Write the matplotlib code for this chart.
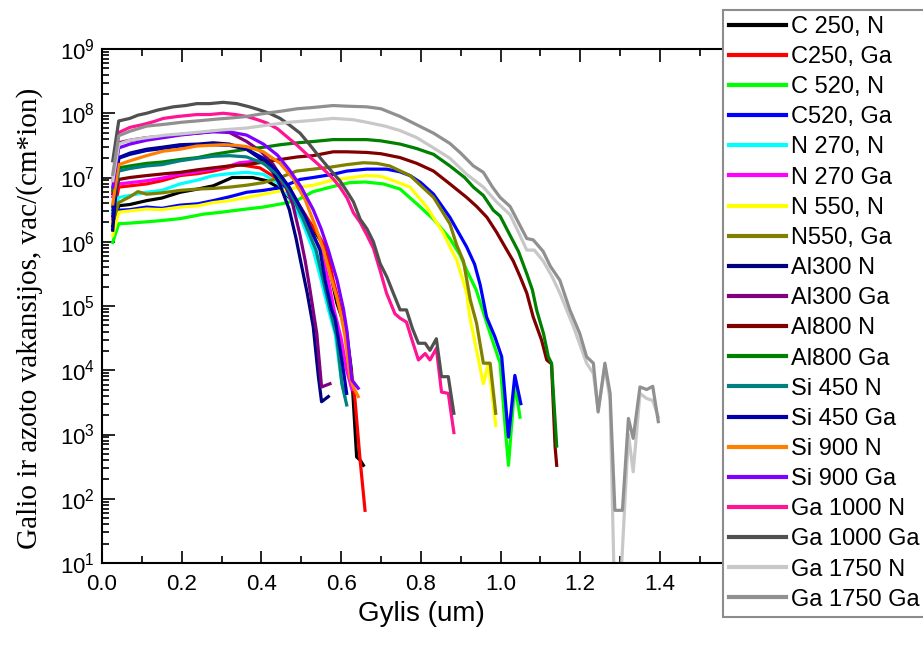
import numpy as np
import matplotlib
matplotlib.use("Agg")
import matplotlib.pyplot as plt
from matplotlib.ticker import LogLocator, MultipleLocator, NullFormatter, FuncFormatter

plt.rcParams['font.family'] = ['Liberation Sans', 'DejaVu Sans']
plt.rcParams['mathtext.fontset'] = 'custom'
plt.rcParams['mathtext.rm'] = 'Liberation Sans'
plt.rcParams['mathtext.it'] = 'Liberation Sans:italic'
plt.rcParams['mathtext.bf'] = 'Liberation Sans:bold'
plt.rcParams['mathtext.default'] = 'regular'

# ---- data: depth (um) and log10 of vacancies, vac/(cm*ion) ----
x_c250_n = [0.027, 0.042, 0.070, 0.112, 0.150, 0.196, 0.240, 0.279, 0.327, 0.378, 0.413, 0.447, 0.480, 0.514, 0.540, 0.564, 0.577, 0.589, 0.600, 0.614, 0.626, 0.639, 0.648, 0.656]
lg_c250_n = [6.25, 6.56, 6.58, 6.64, 6.68, 6.77, 6.82, 6.87, 7.00, 7.00, 6.95, 6.83, 6.62, 6.35, 6.10, 5.87, 5.40, 5.05, 4.85, 4.57, 4.00, 2.65, 2.60, 2.52]

x_c250_ga = [0.027, 0.042, 0.070, 0.112, 0.150, 0.196, 0.240, 0.279, 0.345, 0.396, 0.430, 0.460, 0.490, 0.520, 0.545, 0.565, 0.580, 0.593, 0.605, 0.618, 0.635, 0.647, 0.660]
lg_c250_ga = [6.35, 6.85, 6.87, 6.90, 6.95, 7.03, 7.06, 7.10, 7.20, 7.15, 7.02, 6.85, 6.62, 6.32, 6.08, 5.87, 5.40, 5.10, 4.80, 4.31, 3.53, 2.65, 1.82]

x_c520_n = [0.027, 0.042, 0.070, 0.112, 0.150, 0.196, 0.230, 0.255, 0.300, 0.350, 0.405, 0.450, 0.488, 0.530, 0.580, 0.622, 0.660, 0.706, 0.748, 0.790, 0.832, 0.873, 0.898, 0.915, 0.939, 0.957, 0.974, 0.999, 1.011, 1.020, 1.036, 1.049]
lg_c520_n = [5.99, 6.28, 6.29, 6.31, 6.33, 6.36, 6.40, 6.43, 6.46, 6.50, 6.54, 6.59, 6.64, 6.78, 6.86, 6.92, 6.93, 6.90, 6.82, 6.59, 6.35, 6.05, 5.80, 5.56, 5.25, 4.90, 4.57, 4.11, 3.17, 2.52, 3.79, 3.27]

x_c520_ga = [0.027, 0.042, 0.070, 0.112, 0.150, 0.196, 0.240, 0.279, 0.320, 0.363, 0.405, 0.447, 0.497, 0.530, 0.580, 0.614, 0.664, 0.714, 0.747, 0.773, 0.800, 0.832, 0.873, 0.915, 0.935, 0.949, 0.965, 0.986, 1.003, 1.020, 1.036, 1.051]
lg_c520_ga = [6.20, 6.49, 6.50, 6.54, 6.52, 6.57, 6.59, 6.64, 6.70, 6.77, 6.80, 6.84, 6.97, 7.00, 7.05, 7.10, 7.13, 7.13, 7.09, 7.03, 6.92, 6.74, 6.38, 5.92, 5.65, 5.33, 4.83, 4.52, 4.21, 2.96, 3.92, 3.48]

x_n270_n = [0.027, 0.042, 0.070, 0.112, 0.150, 0.196, 0.240, 0.279, 0.320, 0.363, 0.405, 0.440, 0.470, 0.500, 0.530, 0.548, 0.568, 0.585, 0.602, 0.610]
lg_n270_n = [6.45, 6.69, 6.72, 6.77, 6.80, 6.90, 6.96, 7.03, 7.06, 7.08, 7.05, 6.92, 6.70, 6.35, 5.87, 5.45, 4.95, 4.57, 3.79, 3.59]

x_n270_ga = [0.027, 0.042, 0.070, 0.112, 0.150, 0.196, 0.240, 0.279, 0.320, 0.345, 0.396, 0.430, 0.460, 0.490, 0.520, 0.550, 0.568, 0.582, 0.600, 0.614, 0.627]
lg_n270_ga = [6.70, 6.90, 6.92, 6.95, 6.99, 7.05, 7.09, 7.13, 7.18, 7.23, 7.26, 7.12, 6.92, 6.62, 6.20, 5.87, 5.40, 4.95, 4.50, 4.00, 3.70]

x_n550_n = [0.027, 0.042, 0.070, 0.112, 0.150, 0.196, 0.240, 0.279, 0.320, 0.363, 0.405, 0.447, 0.497, 0.530, 0.580, 0.614, 0.664, 0.698, 0.723, 0.773, 0.815, 0.857, 0.877, 0.890, 0.915, 0.923, 0.940, 0.957, 0.970, 0.988]
lg_n550_n = [6.10, 6.46, 6.48, 6.51, 6.50, 6.54, 6.56, 6.61, 6.64, 6.69, 6.74, 6.79, 6.85, 6.88, 6.96, 6.99, 7.03, 7.02, 6.97, 6.85, 6.54, 6.13, 5.87, 5.72, 5.21, 4.83, 4.31, 3.79, 4.11, 3.14]

x_n550_ga = [0.027, 0.042, 0.070, 0.090, 0.112, 0.150, 0.196, 0.240, 0.279, 0.320, 0.363, 0.405, 0.447, 0.488, 0.530, 0.572, 0.614, 0.656, 0.690, 0.722, 0.773, 0.832, 0.873, 0.890, 0.907, 0.924, 0.940, 0.957, 0.974, 0.988]
lg_n550_ga = [6.30, 6.61, 6.70, 6.78, 6.74, 6.76, 6.80, 6.82, 6.83, 6.85, 6.88, 6.92, 7.00, 7.10, 7.13, 7.16, 7.20, 7.23, 7.22, 7.18, 7.03, 6.69, 6.28, 5.95, 5.70, 5.10, 4.73, 4.11, 4.11, 3.33]

x_al300_n = [0.027, 0.042, 0.070, 0.112, 0.150, 0.196, 0.240, 0.279, 0.320, 0.363, 0.400, 0.430, 0.447, 0.470, 0.487, 0.500, 0.515, 0.530, 0.543, 0.551, 0.568]
lg_al300_n = [6.18, 7.31, 7.38, 7.44, 7.47, 7.51, 7.52, 7.54, 7.52, 7.44, 7.28, 7.08, 6.88, 6.50, 6.05, 5.65, 5.20, 4.68, 3.90, 3.51, 3.59]

x_al300_ga = [0.027, 0.042, 0.070, 0.112, 0.150, 0.196, 0.240, 0.279, 0.320, 0.363, 0.400, 0.430, 0.455, 0.478, 0.497, 0.510, 0.522, 0.539, 0.551, 0.572]
lg_al300_ga = [6.75, 7.54, 7.58, 7.62, 7.64, 7.67, 7.69, 7.72, 7.70, 7.56, 7.40, 7.20, 6.95, 6.60, 6.10, 5.70, 5.25, 4.57, 3.74, 3.79]

x_al800_n = [0.027, 0.042, 0.070, 0.112, 0.160, 0.196, 0.240, 0.279, 0.320, 0.363, 0.405, 0.447, 0.490, 0.530, 0.580, 0.614, 0.664, 0.700, 0.748, 0.790, 0.832, 0.873, 0.915, 0.940, 0.966, 0.990, 1.016, 1.032, 1.049, 1.066, 1.082, 1.103, 1.116, 1.128, 1.137, 1.141]
lg_al800_n = [6.55, 6.97, 7.00, 7.03, 7.06, 7.08, 7.12, 7.15, 7.18, 7.20, 7.24, 7.28, 7.32, 7.34, 7.40, 7.40, 7.39, 7.37, 7.31, 7.22, 7.10, 6.90, 6.69, 6.55, 6.38, 6.15, 5.87, 5.70, 5.46, 5.20, 4.83, 4.47, 4.16, 4.10, 2.81, 2.52]

x_al800_ga = [0.027, 0.042, 0.070, 0.112, 0.150, 0.196, 0.240, 0.279, 0.320, 0.363, 0.405, 0.447, 0.490, 0.530, 0.580, 0.614, 0.664, 0.700, 0.748, 0.790, 0.832, 0.873, 0.910, 0.932, 0.957, 0.982, 0.999, 1.024, 1.045, 1.066, 1.080, 1.091, 1.108, 1.120, 1.128, 1.141]
lg_al800_ga = [6.80, 7.15, 7.18, 7.22, 7.24, 7.28, 7.31, 7.36, 7.40, 7.44, 7.47, 7.51, 7.54, 7.56, 7.59, 7.59, 7.59, 7.57, 7.52, 7.45, 7.36, 7.18, 7.00, 6.85, 6.72, 6.49, 6.40, 6.10, 5.85, 5.50, 5.25, 4.93, 4.57, 4.21, 4.11, 2.82]

x_si450_n = [0.027, 0.042, 0.070, 0.112, 0.150, 0.196, 0.240, 0.279, 0.320, 0.363, 0.405, 0.440, 0.470, 0.505, 0.537, 0.555, 0.572, 0.589, 0.602, 0.614]
lg_si450_n = [6.50, 7.10, 7.14, 7.18, 7.20, 7.26, 7.30, 7.33, 7.34, 7.32, 7.22, 7.05, 6.80, 6.35, 5.87, 5.40, 4.95, 4.52, 3.79, 3.46]

x_si450_ga = [0.027, 0.042, 0.070, 0.112, 0.150, 0.196, 0.240, 0.279, 0.320, 0.363, 0.405, 0.440, 0.470, 0.510, 0.547, 0.560, 0.576, 0.585, 0.602, 0.614]
lg_si450_ga = [6.40, 7.30, 7.36, 7.42, 7.45, 7.49, 7.50, 7.51, 7.50, 7.44, 7.30, 7.10, 6.85, 6.40, 5.87, 5.40, 4.95, 4.80, 4.16, 3.64]

x_si900_n = [0.027, 0.042, 0.070, 0.112, 0.154, 0.196, 0.238, 0.270, 0.304, 0.338, 0.363, 0.405, 0.447, 0.480, 0.510, 0.535, 0.556, 0.572, 0.589, 0.600, 0.610, 0.622, 0.630, 0.643]
lg_si900_n = [6.59, 7.20, 7.26, 7.34, 7.41, 7.44, 7.49, 7.50, 7.51, 7.50, 7.48, 7.40, 7.22, 6.98, 6.65, 6.25, 5.87, 5.50, 5.14, 4.85, 4.52, 3.90, 3.75, 3.59]

x_si900_ga = [0.027, 0.042, 0.070, 0.112, 0.154, 0.196, 0.238, 0.279, 0.320, 0.363, 0.405, 0.440, 0.470, 0.500, 0.530, 0.550, 0.568, 0.590, 0.606, 0.615, 0.627, 0.643]
lg_si900_ga = [6.85, 7.46, 7.52, 7.58, 7.62, 7.66, 7.69, 7.71, 7.71, 7.66, 7.52, 7.35, 7.12, 6.85, 6.50, 6.20, 5.87, 5.40, 4.95, 4.60, 3.85, 3.72]

x_ga1000_n = [0.027, 0.042, 0.070, 0.100, 0.130, 0.154, 0.190, 0.238, 0.270, 0.304, 0.335, 0.363, 0.390, 0.413, 0.440, 0.463, 0.490, 0.514, 0.540, 0.564, 0.580, 0.597, 0.615, 0.631, 0.648, 0.665, 0.681, 0.698, 0.714, 0.735, 0.748, 0.764, 0.779, 0.794, 0.811, 0.823, 0.839, 0.852, 0.869, 0.883]
lg_ga1000_n = [6.95, 7.70, 7.78, 7.82, 7.87, 7.92, 7.95, 7.98, 7.98, 8.00, 7.98, 7.95, 7.90, 7.85, 7.76, 7.64, 7.50, 7.36, 7.22, 7.08, 6.98, 6.85, 6.68, 6.45, 6.30, 6.10, 5.90, 5.55, 5.20, 4.88, 4.81, 4.75, 4.45, 4.16, 4.26, 4.16, 4.34, 3.66, 3.64, 3.03]

x_ga1000_ga = [0.027, 0.042, 0.070, 0.090, 0.112, 0.140, 0.179, 0.210, 0.238, 0.270, 0.304, 0.338, 0.370, 0.396, 0.420, 0.447, 0.470, 0.497, 0.520, 0.547, 0.570, 0.597, 0.615, 0.631, 0.648, 0.665, 0.681, 0.698, 0.715, 0.731, 0.748, 0.764, 0.779, 0.794, 0.811, 0.823, 0.839, 0.852, 0.869, 0.883]
lg_ga1000_ga = [7.26, 7.88, 7.92, 7.97, 8.00, 8.05, 8.10, 8.12, 8.15, 8.15, 8.17, 8.15, 8.10, 8.05, 8.00, 7.92, 7.82, 7.69, 7.52, 7.31, 7.14, 6.95, 6.78, 6.62, 6.35, 6.20, 6.00, 5.66, 5.45, 5.20, 4.94, 4.94, 4.65, 4.42, 4.42, 4.31, 4.49, 3.90, 3.90, 3.33]

x_ga1750_n = [0.027, 0.042, 0.070, 0.112, 0.160, 0.200, 0.250, 0.300, 0.363, 0.420, 0.470, 0.530, 0.580, 0.630, 0.664, 0.710, 0.748, 0.790, 0.832, 0.873, 0.915, 0.957, 0.990, 1.024, 1.045, 1.066, 1.085, 1.107, 1.130, 1.149, 1.183, 1.216, 1.233, 1.245, 1.262, 1.275, 1.286, 1.300, 1.321, 1.333, 1.350, 1.367, 1.382, 1.396]
lg_ga1750_n = [6.95, 7.52, 7.58, 7.62, 7.66, 7.68, 7.71, 7.74, 7.77, 7.82, 7.86, 7.89, 7.92, 7.90, 7.86, 7.80, 7.73, 7.62, 7.46, 7.30, 7.05, 6.85, 6.62, 6.42, 6.15, 5.87, 5.87, 5.70, 5.45, 5.20, 4.68, 4.11, 3.95, 3.38, 4.05, 3.53, 0.5, 0.5, 3.00, 2.42, 3.64, 3.56, 3.53, 3.27]

x_ga1750_ga = [0.027, 0.042, 0.070, 0.112, 0.160, 0.200, 0.238, 0.290, 0.330, 0.363, 0.400, 0.447, 0.490, 0.530, 0.580, 0.614, 0.664, 0.700, 0.748, 0.790, 0.832, 0.873, 0.900, 0.932, 0.957, 0.980, 0.999, 1.024, 1.045, 1.066, 1.082, 1.107, 1.125, 1.149, 1.174, 1.199, 1.216, 1.233, 1.245, 1.262, 1.275, 1.287, 1.306, 1.321, 1.333, 1.350, 1.367, 1.382, 1.396]
lg_ga1750_ga = [7.05, 7.65, 7.72, 7.80, 7.83, 7.86, 7.88, 7.91, 7.93, 7.95, 7.99, 8.03, 8.07, 8.09, 8.12, 8.11, 8.10, 8.07, 7.95, 7.82, 7.69, 7.53, 7.38, 7.18, 7.08, 6.85, 6.69, 6.55, 6.30, 6.05, 6.03, 5.85, 5.62, 5.40, 4.94, 4.57, 4.21, 4.11, 3.35, 4.11, 3.64, 1.82, 1.82, 3.25, 2.94, 3.74, 3.70, 3.75, 3.20]

labels = ["C 250, N", "C250, Ga", "C 520, N", "C520, Ga", "N 270, N", "N 270 Ga",
          "N 550, N", "N550, Ga", "Al300 N", "Al300 Ga", "Al800 N", "Al800 Ga",
          "Si 450 N", "Si 450 Ga", "Si 900 N", "Si 900 Ga", "Ga 1000 N", "Ga 1000 Ga",
          "Ga 1750 N", "Ga 1750 Ga"]
colors = ["#000000", "#ff0000", "#00ff00", "#0000ff", "#00ffff", "#ff00ff",
          "#ffff00", "#808000", "#000080", "#800080", "#800000", "#008000",
          "#008080", "#0000a8", "#ff8000", "#8000ff", "#ff1493", "#505050",
          "#c8c8c8", "#909090"]
xs = [x_c250_n, x_c250_ga, x_c520_n, x_c520_ga, x_n270_n, x_n270_ga, x_n550_n, x_n550_ga,
      x_al300_n, x_al300_ga, x_al800_n, x_al800_ga, x_si450_n, x_si450_ga, x_si900_n, x_si900_ga,
      x_ga1000_n, x_ga1000_ga, x_ga1750_n, x_ga1750_ga]
lgs = [lg_c250_n, lg_c250_ga, lg_c520_n, lg_c520_ga, lg_n270_n, lg_n270_ga, lg_n550_n, lg_n550_ga,
       lg_al300_n, lg_al300_ga, lg_al800_n, lg_al800_ga, lg_si450_n, lg_si450_ga, lg_si900_n, lg_si900_ga,
       lg_ga1000_n, lg_ga1000_ga, lg_ga1750_n, lg_ga1750_ga]

W, H = 923, 648
fig = plt.figure(figsize=(W / 100, H / 100), dpi=100)
ax = fig.add_axes([102 / W, (H - 563) / H, 637.6 / W, 514 / H])

for x, lg, lab, c in zip(xs, lgs, labels, colors):
    ax.plot(x, np.power(10.0, np.array(lg)), color=c, lw=2.3, label=lab)

ax.set_yscale('log')
ax.set_xlim(0, 1.6)
ax.set_ylim(1e1, 1e9)
ax.xaxis.set_major_locator(MultipleLocator(0.2))
ax.xaxis.set_minor_locator(MultipleLocator(0.1))
ax.xaxis.set_major_formatter(FuncFormatter(lambda v, p: "" if v > 1.5 else f"{v:.1f}"))
ax.yaxis.set_major_locator(LogLocator(base=10, numticks=20))
ax.yaxis.set_minor_locator(LogLocator(base=10, subs=np.arange(2, 10), numticks=20))
ax.yaxis.set_minor_formatter(NullFormatter())
ax.tick_params(which='both', direction='in', top=True, right=True, labelsize=16, width=1.2)
ax.tick_params(which='major', length=9)
ax.tick_params(which='minor', length=5)
ax.tick_params(axis='x', pad=8)
ax.tick_params(axis='y', pad=5)
for s in ax.spines.values():
    s.set_linewidth(1.5)

fig.text(421 / W, 1 - 614 / H, "Gylis (um)", fontsize=20, ha='center', va='center')
fig.text(30 / W, 1 - 318 / H, "Galio ir azoto vakansijos, vac/(cm*ion)", fontsize=21,
         family=['Liberation Serif', 'DejaVu Serif'], rotation=90, ha='center', va='center')

leg = ax.legend(loc='upper left', bbox_to_anchor=(723 / W, 1 - 10 / H), bbox_transform=fig.transFigure,
                fontsize=17, frameon=True, fancybox=False, framealpha=1, edgecolor='#8c8c8c',
                borderpad=0.25, labelspacing=0.345, handlelength=2.4, handletextpad=0.25,
                borderaxespad=0)
leg.get_frame().set_linewidth(1.5)
for ln in leg.get_lines():
    ln.set_linewidth(3)

fig.savefig("out.png", dpi=100)
